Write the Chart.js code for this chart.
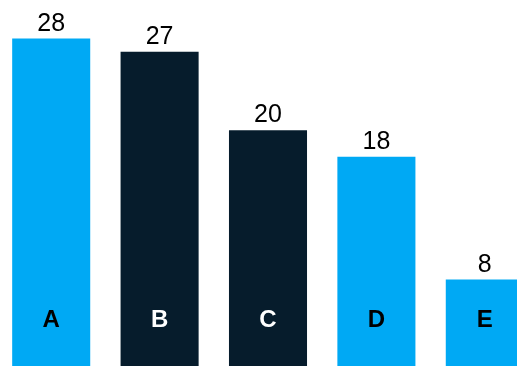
<!DOCTYPE html>
<html>
<head>
<meta charset="utf-8">
<script src="https://cdn.jsdelivr.net/npm/chart.js@4"></script>
<style>
  html, body { margin: 0; padding: 0; background: #fff; overflow: hidden; width: 517px; height: 366px; }
  #wrap { position: absolute; left: -3px; top: 0; width: 542px; height: 376px; }
</style>
</head>
<body>
<div id="wrap"><canvas id="myChart"></canvas></div>
<script>
const categories = ['A', 'B', 'C', 'D', 'E'];
const values = [28, 26.9, 20.4, 18.2, 8];
const valueLabels = ['28', '27', '20', '18', '8'];
const barColors = ['#00a9f4', '#061c2c', '#061c2c', '#00a9f4', '#00a9f4'];
const nameColors = ['#000000', '#ffffff', '#ffffff', '#000000', '#000000'];

// draws numbers above bars and the letters inside them
const barText = {
  id: 'barText',
  afterDatasetsDraw(chart) {
    const ctx = chart.ctx;
    const meta = chart.getDatasetMeta(0);
    ctx.save();
    ctx.textAlign = 'center';
    meta.data.forEach((bar, i) => {
      ctx.textBaseline = 'alphabetic';
      ctx.fillStyle = '#000';
      ctx.font = '25px "Liberation Sans", Arial, sans-serif';
      ctx.fillText(valueLabels[i], bar.x, bar.y - 8);
      ctx.fillStyle = nameColors[i];
      ctx.font = 'bold 24px "Liberation Sans", Arial, sans-serif';
      ctx.textBaseline = 'alphabetic';
      ctx.fillText(categories[i], bar.x, bar.base - 49);
    });
    ctx.restore();
  }
};

function initChart() {
  const ctx = document.getElementById('myChart');
  return new Chart(ctx, {
    type: 'bar',
    data: {
      labels: categories,
      datasets: [{
        data: values,
        backgroundColor: barColors,
        borderWidth: 0,
        categoryPercentage: 1,
        barPercentage: 0.72
      }]
    },
    options: {
      responsive: true,
      maintainAspectRatio: false,
      animation: false,
      layout: { padding: 0 },
      plugins: { legend: { display: false }, tooltip: { enabled: false } },
      scales: {
        x: { display: false },
        y: { display: false, min: 0, max: 31.2 }
      }
    },
    plugins: [barText]
  });
}

document.addEventListener('DOMContentLoaded', () => initChart());
</script>
</body>
</html>
